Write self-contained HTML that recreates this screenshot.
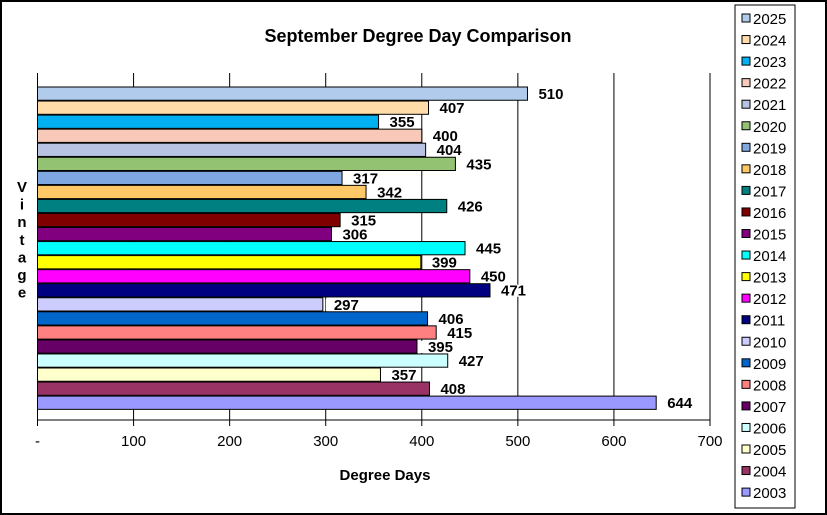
<!DOCTYPE html>
<html><head><meta charset="utf-8"><style>
body{margin:0;background:#fff;}
svg{display:block;font-family:"Liberation Sans",Arial,sans-serif;}
</style></head><body>
<svg id="c" width="827" height="515">
<rect x="1" y="1" width="825" height="513" fill="#fff" stroke="#000" stroke-width="2"/>
<text x="418" y="42" font-size="18" font-weight="bold" text-anchor="middle">September Degree Day Comparison</text>
<text x="385" y="480" font-size="15" font-weight="bold" text-anchor="middle">Degree Days</text>
<g id="grid"></g><g id="bars"></g><g id="yt"></g>
<rect x="735" y="5" width="60" height="503" fill="#fff" stroke="#000" stroke-width="1"/>
<g id="leg"></g>
</svg>
<script>
const years=["2025","2024","2023","2022","2021","2020","2019","2018","2017","2016","2015","2014","2013","2012","2011","2010","2009","2008","2007","2006","2005","2004","2003"];
const values=[510,407,355,400,404,435,317,342,426,315,306,445,399,450,471,297,406,415,395,427,357,408,644];
const colors=["#b0cbec","#ffdca8","#00b0f0","#f8c8b8","#b8c2e2","#93c272","#80a8e0","#ffc866","#008080","#800000","#800080","#00ffff","#ffff00","#ff00ff","#000080","#ccccff","#0066cc","#ff8080","#660066","#ccffff","#ffffcc","#993366","#9999ff"];
const ticks=[0,100,200,300,400,500,600,700];
const tickLabels=["-","100","200","300","400","500","600","700"];
const NS="http://www.w3.org/2000/svg";
const X0=37.5,X1=710,MAXV=700,PT=73,PB=420;
const xs=v=>X0+(X1-X0)*v/MAXV;
const band=14.05,top0=87;
function mk(t,a,p){const e=document.createElementNS(NS,t);for(const k in a)e.setAttribute(k,a[k]);p.appendChild(e);return e;}
const grid=document.getElementById('grid'),bars=document.getElementById('bars'),leg=document.getElementById('leg'),yt=document.getElementById('yt');
ticks.forEach((t,i)=>{
 const x=xs(t);
 if(t>0){const g=mk('line',{x1:x,x2:x,y1:PT,y2:PB,stroke:'#000','stroke-width':1},grid);
 
 }
 const tk=mk('line',{x1:x,x2:x,y1:PB,y2:PB+6,stroke:'#000'},grid);
 
 
 const lb=mk('text',{x:x,y:446,'font-size':15,'text-anchor':'middle'},grid);lb.textContent=tickLabels[i];
 
 
});
const ax=mk('line',{x1:X0,x2:X1,y1:PB,y2:PB,stroke:'#000'},grid);


const ay=mk('line',{x1:X0,x2:X0,y1:PT,y2:PB,stroke:'#000'},grid);


values.forEach((v,i)=>{
 const y=top0+i*band,w=xs(v)-X0;
 const r=mk('rect',{x:X0,y:y,width:w,height:band-0.8,fill:colors[i],stroke:'#000','stroke-width':1},bars);
 
 
 const lx=xs(v)+3;
 const bg=mk('rect',{x:lx,y:y+1,width:32,height:band-2,fill:'#fff'},bars);
 
 
 const t=mk('text',{x:lx+8,y:y+band/2+5,'font-size':15,'font-weight':'bold'},bars);t.textContent=v;
 
 
 const ly=19+i*21.55;
 const s=mk('rect',{x:742,y:ly-5,width:8,height:8,fill:colors[i],stroke:'#000','stroke-width':1},leg);
 
 
 const lt=mk('text',{x:753,y:ly+5,'font-size':15},leg);lt.textContent=years[i];
 
 
});
"Vintage".split('').forEach((c,i)=>{
 const t=mk('text',{x:22,y:192+i*17.6,'font-size':15,'font-weight':'bold','text-anchor':'middle'},yt);t.textContent=c;
 
 
});
</script>
</body></html>
